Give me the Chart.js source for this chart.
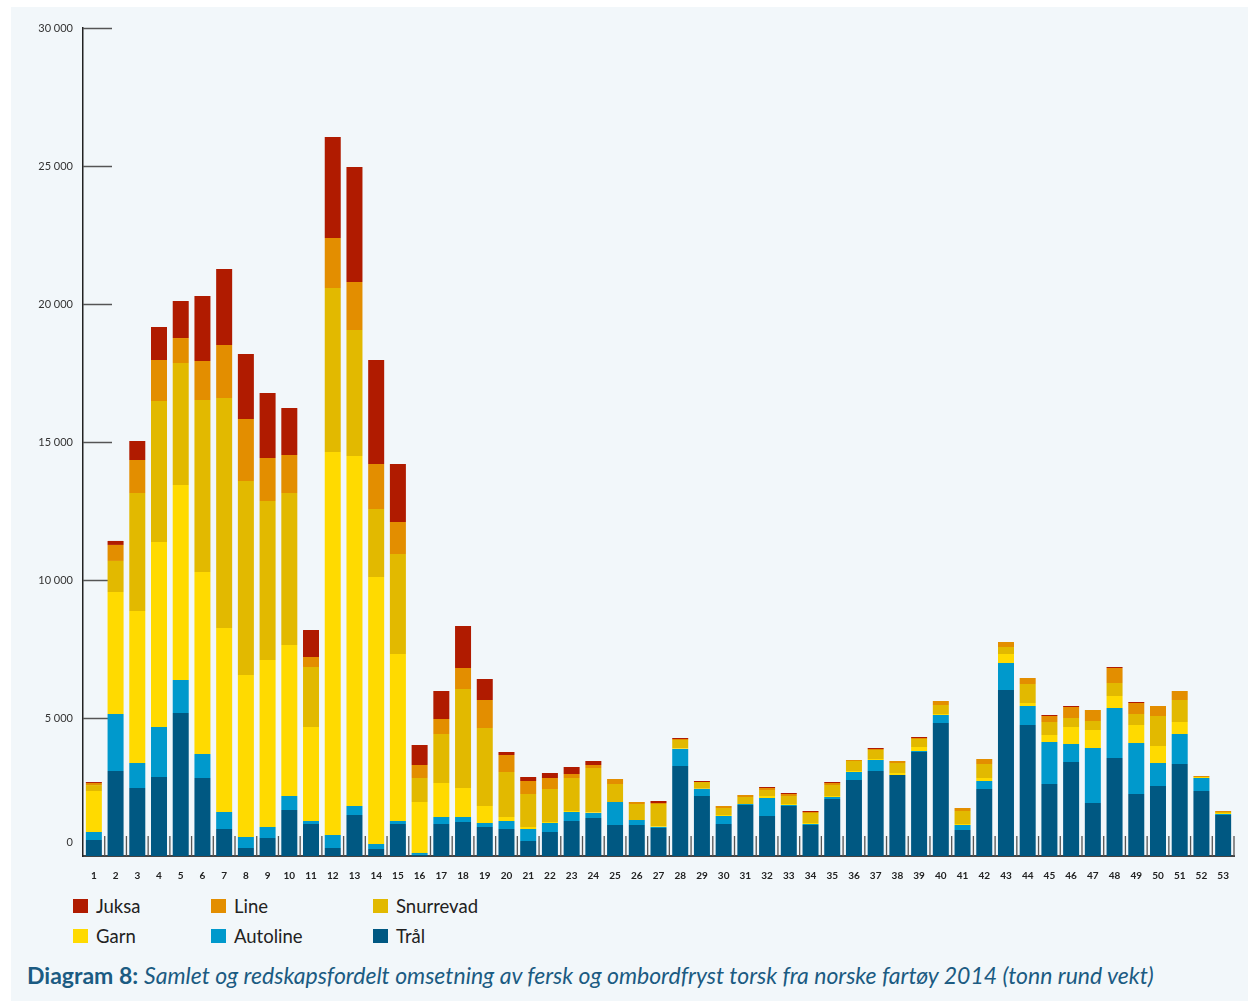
<!DOCTYPE html>
<html>
<head>
<meta charset="utf-8">
<script src="https://cdn.jsdelivr.net/npm/chart.js@4/dist/chart.umd.min.js"></script>
<style>
  html,body{margin:0;padding:0;background:#ffffff;}
  body{width:1248px;height:1001px;position:relative;overflow:hidden;font-family:Lato,"Open Sans",sans-serif;}
  #panel{position:absolute;left:11px;top:7px;width:1237px;height:994px;background:#f2f7fa;}
  #wrap{position:absolute;left:0;top:0;width:1248px;height:890px;}
  #legend{position:absolute;left:73px;top:895px;display:grid;grid-template-columns:138px 162px 160px;row-gap:8px;font-size:18.5px;color:#222;}
  .item{display:flex;align-items:center;height:22px;}
  .box{width:15px;height:14px;margin-right:8px;}
  #title{position:absolute;left:27px;top:961px;font-size:23px;color:#1b5b82;white-space:nowrap;}
  #title b{font-weight:700;}
  #title i{font-style:italic;}
</style>
</head>
<body>
<div id="panel"></div>
<div id="wrap"><canvas id="c"></canvas></div>
<div id="legend"></div>
<div id="title"><b>Diagram 8:</b> <i>Samlet og redskapsfordelt omsetning av fersk og ombordfryst torsk fra norske fartøy 2014 (tonn rund vekt)</i></div>
<script>
const weeks = Array.from({length:53},(_,i)=>String(i+1));
const yTicks = [0,5000,10000,15000,20000,25000,30000];

const tral = [580,3080,2464,2862,5181,2826,978,290,652,1667,1159,290,1486,254,1159,40,1159,1232,1051,978,543,870,1268,1377,1123,1123,1014,3261,2174,1159,1848,1449,1812,1123,2065,2753,3080,2935,3768,4819,942,2427,6014,4746,2609,3406,1920,3551,2246,2536,3333,2355,1486];
const autoline = [290,2065,906,1812,1196,869,616,398,399,507,109,471,326,181,109,70,254,181,145,290,435,326,326,181,833,181,37,616,253,290,36,652,36,36,73,290,398,0,36,289,181,290,979,689,1521,652,1993,1811,1848,833,1087,471,36];
const garn = [1485,4420,5507,6703,7065,6594,6667,5870,6050,5471,3406,13876,12680,9673,6050,1847,1232,1051,616,145,73,36,36,20,0,0,20,20,10,37,0,73,36,37,36,37,36,72,145,37,36,109,325,108,254,616,652,435,652,616,435,36,36];
const snurrevad = [215,1125,4275,5108,4420,6232,8333,7029,5761,5507,2174,5942,4566,2464,3624,870,1775,3586,2826,1630,1195,1195,1196,1610,653,580,813,306,244,253,254,217,290,362,398,362,326,362,290,326,471,507,254,689,471,326,326,471,399,1087,797,0,36];
const line = [75,580,1196,1486,905,1413,1920,2246,1558,1377,362,1812,1739,1631,1159,471,544,762,1014,616,471,399,145,109,181,72,36,36,0,73,72,73,72,36,73,36,37,73,36,145,109,181,181,217,217,398,399,544,398,363,326,36,36];
const juksa = [35,145,688,1195,1341,2355,2753,2355,2355,1702,978,3660,4166,3768,2102,724,1014,1521,761,109,145,181,253,145,0,0,73,36,36,0,0,36,36,36,36,0,36,0,36,0,0,0,0,0,36,37,0,36,36,0,0,0,0];

const seriesNames = ["Trål","Autoline","Garn","Snurrevad","Line","Juksa"];
const seriesData = [tral,autoline,garn,snurrevad,line,juksa];
const seriesColors = ["#005882","#0099cc","#ffda00","#e2b900","#e38e00","#b01b00"];

const fmt = v=>String(v).replace(/\B(?=(\d{3})+(?!\d))/g,' ');

const shortMarks = {
  id:'shortMarks',
  beforeDatasetsDraw(chart){
    const {ctx, chartArea, scales} = chart;
    const y = scales.y, x = scales.x;
    ctx.save();
    ctx.strokeStyle = '#555';
    ctx.lineWidth = 1.5;
    y.ticks.forEach(t=>{
      if(t.value===0) return;
      const py = Math.round(y.getPixelForValue(t.value))+0.5;
      ctx.beginPath(); ctx.moveTo(chartArea.left, py); ctx.lineTo(chartArea.left+29, py); ctx.stroke();
    });
    ctx.strokeStyle = '#555';
    ctx.lineWidth = 1.3;
    for(let i=0;i<weeks.length;i++){
      const px = (x.getPixelForValue(i) + (i<weeks.length-1 ? x.getPixelForValue(i+1) : 2*x.getPixelForValue(i)-x.getPixelForValue(i-1)))/2;
      ctx.beginPath(); ctx.moveTo(px, chartArea.bottom); ctx.lineTo(px, chartArea.bottom-20); ctx.stroke();
    }
    // zero label, set slightly above the baseline as in the source
    ctx.fillStyle = '#333';
    ctx.font = '11px Lato';
    ctx.textAlign = 'right';
    ctx.textBaseline = 'middle';
    ctx.fillText(fmt(0), chartArea.left-10, y.getPixelForValue(0)-14);
    ctx.restore();
  }
};

const chart = new Chart(document.getElementById('c'),{
  type:'bar',
  data:{
    labels:weeks,
    datasets:seriesNames.map((n,i)=>({label:n,data:seriesData[i],backgroundColor:seriesColors[i],borderWidth:0,barPercentage:0.737,categoryPercentage:1}))
  },
  options:{
    responsive:true,maintainAspectRatio:false,animation:false,
    layout:{padding:{left:0,top:28,right:14,bottom:0}},
    plugins:{legend:{display:false},tooltip:{enabled:false}},
    scales:{
      x:{stacked:true,
        grid:{display:false},
        border:{display:true,color:'#444',width:2},
        ticks:{autoSkip:false,maxRotation:0,padding:6,color:'#222',font:{family:'Lato',size:10,weight:'bold'}},
        afterFit(s){s.height=34;}
      },
      y:{stacked:true,min:0,max:30000,
        afterBuildTicks(s){s.ticks=yTicks.map(v=>({value:v}));},
        grid:{display:false,drawTicks:false},
        border:{display:true,color:'#222',width:1.5},
        ticks:{padding:10,color:'#333',font:{family:'Lato',size:11},
          callback:v=> v===0 ? '' : fmt(v)},
        afterFit(s){s.width=83;}
      }
    }
  },
  plugins:[shortMarks]
});

const order = [5,4,3,2,1,0];
const leg = document.getElementById('legend');
order.forEach(i=>{
  const d = document.createElement('div'); d.className='item';
  d.innerHTML = '<span class="box" style="background:'+seriesColors[i]+'"></span><span>'+seriesNames[i]+'</span>';
  leg.appendChild(d);
});
</script>
</body>
</html>
